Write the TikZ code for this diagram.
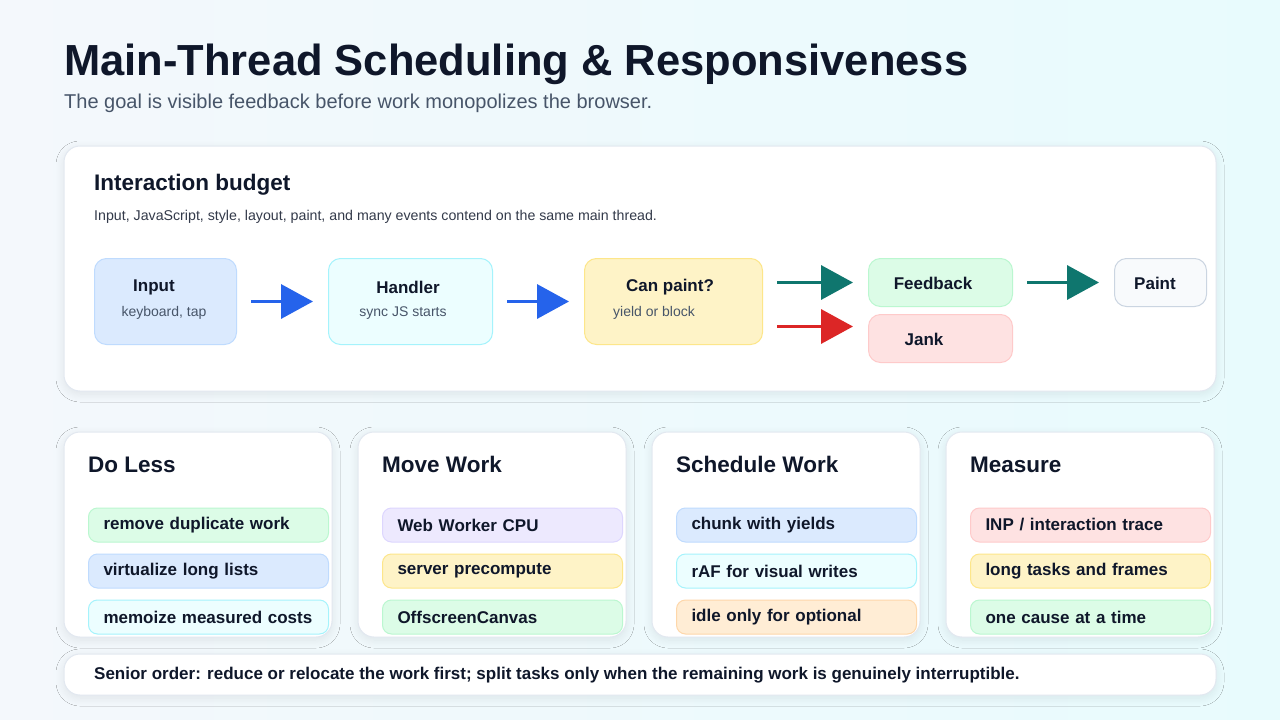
\documentclass[tikz,border=0pt]{standalone}
\usepackage{fontspec}
\setmainfont{Liberation Sans}
\usetikzlibrary{arrows.meta,shadows.blur,calc}
\definecolor{ink}{HTML}{0F172A}
\definecolor{sub}{HTML}{475569}
\definecolor{blueA}{HTML}{DBEAFE}\definecolor{blueB}{HTML}{BFDBFE}
\definecolor{cyanA}{HTML}{ECFEFF}\definecolor{cyanB}{HTML}{A5F3FC}
\definecolor{ambA}{HTML}{FEF3C7}\definecolor{ambB}{HTML}{FDE68A}
\definecolor{grnA}{HTML}{DCFCE7}\definecolor{grnB}{HTML}{BBF7D0}
\definecolor{redA}{HTML}{FEE2E2}\definecolor{redB}{HTML}{FECACA}
\definecolor{purA}{HTML}{EDE9FE}\definecolor{purB}{HTML}{DDD6FE}
\definecolor{orA}{HTML}{FFEDD5}\definecolor{orB}{HTML}{FED7AA}
\definecolor{slA}{HTML}{F8FAFC}\definecolor{slB}{HTML}{CBD5E1}
\definecolor{cardB}{HTML}{E2E8F0}
\definecolor{bgL}{HTML}{F4F8FC}\definecolor{bgR}{HTML}{E8FBFD}
\definecolor{arBlue}{HTML}{2563EB}\definecolor{arTeal}{HTML}{0F766E}\definecolor{arRed}{HTML}{DC2626}
\tikzset{
  card/.style={draw=cardB,line width=1pt,fill=white,rounded corners=16pt,blur shadow={shadow blur steps=10,shadow xshift=0pt,shadow yshift=-3pt,shadow blur radius=8pt,shadow opacity=8}},
  flowbox/.style={draw=#1B,fill=#1A,line width=1pt,rounded corners=12pt,anchor=north west},
  pill/.style={draw=#1B,fill=#1A,line width=1pt,rounded corners=9pt,minimum width=220pt,minimum height=34pt,anchor=west,text=ink,font=\fontsize{17}{19}\selectfont\bfseries,align=left,text width=210pt,inner xsep=15pt},
  flowarr/.style={draw=#1,line width=3.5pt,-{Triangle[length=32pt,width=34pt,fill=#1]},shorten <=14pt,shorten >=15pt},
  ttl/.style={anchor=base west,text=ink,font=\fontsize{22.5}{26}\selectfont\bfseries,inner sep=0pt},
}
\begin{document}
\begin{tikzpicture}[x=1pt,y=-1pt]
\useasboundingbox (0,0) rectangle (1280,720);
\shade[left color=bgL,right color=bgR] (0,0) rectangle (1280,720);
\node[anchor=base west,text=ink,font=\fontsize{43.5}{48}\selectfont\bfseries,inner sep=0pt] (title) at (64,75) {Main-Thread Scheduling \& Responsiveness};
\node[anchor=base west,text=sub,font=\fontsize{20}{22}\selectfont,inner sep=0pt] (subt) at (64,108) {The goal is visible feedback before work monopolizes the browser.};
\path[card] (64,146) rectangle (1216,391);
\node[ttl] (ib) at (94,190) {Interaction budget};
\node[anchor=base west,text=ink!85,font=\fontsize{14.2}{16}\selectfont,inner sep=0pt] (ibs) at (94,220) {Input, JavaScript, style, layout, paint, and many events contend on the same main thread.};
% flow boxes
\node[flowbox=blue,minimum width=142pt,minimum height=86pt] (in) at (94,258) {};
\node[flowbox=cyan,minimum width=164pt,minimum height=86pt] (hd) at (328,258) {};
\node[flowbox=amb,minimum width=178pt,minimum height=86pt] (cp) at (584,258) {};
\node[flowbox=grn,minimum width=144pt,minimum height=48pt] (fb) at (868,258) {};
\node[flowbox=red,minimum width=144pt,minimum height=48pt] (jk) at (868,314) {};
\node[flowbox=sl,minimum width=92pt,minimum height=48pt] (pt) at (1114,258) {};
\tikzset{bl/.style={text=ink,font=\fontsize{17}{19}\selectfont\bfseries,inner sep=0pt},sm/.style={text=sub,font=\fontsize{14}{16}\selectfont,inner sep=0pt}}
\node[bl] at (154,287) {Input};
\node[sm] at (164,313) {keyboard, tap};
\node[bl] at (408,287) {Handler};
\node[sm] at (403,313) {sync JS starts};
\node[bl] at (670,287) {Can paint?};
\node[sm] at (654,313) {yield or block};
\node[bl] at (933,283) {Feedback};
\node[bl] at (924,339) {Jank};
\node[bl] at (1155,283) {Paint};
% arrows
\draw[flowarr=arBlue] (in.east) -- (hd.west);
\draw[flowarr=arBlue] (hd.east) -- (cp.west);
\draw[flowarr=arTeal] (cp.east |- fb.west) -- (fb.west);
\draw[flowarr=arRed] ([yshift=-25pt]cp.east) -- ([yshift=-25pt]cp.east -| jk.west);
\draw[flowarr=arTeal] (fb.east) -- (pt.west);
% cards
\foreach \x/\t/\ca/\ta/\cb/\tb/\cc/\tc/\n in {
 64/Do Less/grn/remove duplicate work/blue/virtualize long lists/cyan/memoize measured costs/a,
 358/Move Work/pur/Web Worker CPU/amb/server precompute/grn/OffscreenCanvas/b,
 652/Schedule Work/blue/chunk with yields/cyan/rAF for visual writes/or/idle only for optional/c,
 946/Measure/red/{INP / interaction trace}/amb/long tasks and frames/grn/one cause at a time/d}{
  \path[card] (\x,432) rectangle ++(268,205);
  \node[ttl] (h\n) at (\x+24,472) {\t};
  \node[pill=\ca] (p\n1) at (\x+24,525) {\ta};
  \node[pill=\cb] (p\n2) at (\x+24,571) {\tb};
  \node[pill=\cc] (p\n3) at (\x+24,617) {\tc};
}
\path[card] (64,654) rectangle (1216,695);
\node[anchor=west,text=ink,font=\fontsize{17}{19}\selectfont\bfseries,inner sep=0pt] (so) at (94,675) {Senior order: reduce or relocate the work first; split tasks only when the remaining work is genuinely interruptible.};
\end{tikzpicture}
\end{document}
